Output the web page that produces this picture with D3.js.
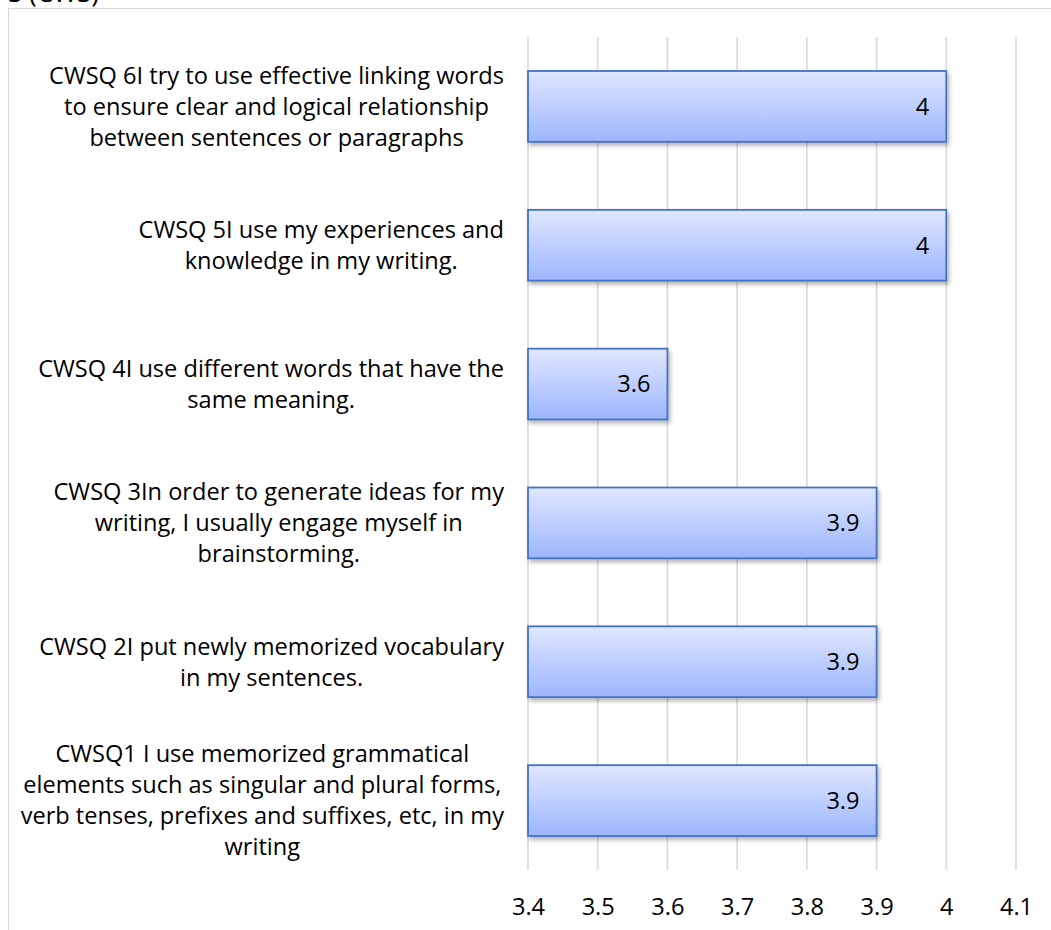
<!DOCTYPE html>
<html><head><meta charset="utf-8">
<script src="https://cdn.jsdelivr.net/npm/d3@7"></script>
<style>body{margin:0;background:#fff}svg{display:block}</style>
</head><body>
<svg id="c" width="1051" height="930"></svg>
<script>
const categories = ["CWSQ1","CWSQ 2","CWSQ 3","CWSQ 4","CWSQ 5","CWSQ 6"];
const labelLines = [
  ["CWSQ1 I use memorized grammatical","elements such as singular and plural forms,","verb tenses, prefixes and suffixes, etc, in my","writing"],
  ["CWSQ 2I put newly memorized vocabulary","in my sentences."],
  ["CWSQ 3In order to generate ideas for my","writing, I usually engage myself in","brainstorming."],
  ["CWSQ 4I use different words that have the","same meaning."],
  ["CWSQ 5I use my experiences and","knowledge in my writing."],
  ["CWSQ 6I try to use effective linking words","to ensure clear and logical relationship","between sentences or paragraphs"]
];
const values = [3.9, 3.9, 3.9, 3.6, 4, 4];
const xDomain = [3.4, 4.1];
const tickValues = [3.4,3.5,3.6,3.7,3.8,3.9,4,4.1];
const titleFragment = "S (CWS)";

const FONT = "'Open Sans', Lato, sans-serif";
const svg = d3.select("#c");

// fit font size so that reference line width matches (455px)
const probe = svg.append("text").attr("font-family",FONT).attr("font-size",20).text(labelLines[5][0]);
const FS = 20 * 455 / probe.node().getComputedTextLength();
probe.remove();

const defs = svg.append("defs");
const g = defs.append("linearGradient").attr("id","bg").attr("x1",0).attr("y1",0).attr("x2",0).attr("y2",1);
g.append("stop").attr("offset","0%").attr("stop-color","#e0e7ff");
g.append("stop").attr("offset","100%").attr("stop-color","#9cb6fd");
const f = defs.append("filter").attr("id","sh").attr("x","-10%").attr("y","-10%").attr("width","130%").attr("height","150%");
f.append("feDropShadow").attr("dx",2).attr("dy",3).attr("stdDeviation",2).attr("flood-color","#000").attr("flood-opacity",0.3);

// chart border
svg.append("rect").attr("x",8.5).attr("y",8.5).attr("width",1100).attr("height",1000)
  .attr("fill","none").attr("stroke","#d9d9d9").attr("stroke-width",1.2);

// partially visible title (cut by the top edge, as in the reference)
svg.append("text").attr("x",8).attr("y",2).attr("font-family",FONT).attr("font-size",26)
  .attr("fill","#000").text(titleFragment);

const x = d3.scaleLinear().domain(xDomain).range([528,1016]);
const order = categories.map((c,i)=>i).reverse();
const y = d3.scaleBand().domain(order).range([37,870]).paddingInner(0.49).paddingOuter(0.245);

// gridlines
svg.append("g").selectAll("line").data(tickValues).join("line")
  .attr("x1",d=>x(d)).attr("x2",d=>x(d)).attr("y1",37).attr("y2",870)
  .attr("stroke","#d9d9d9").attr("stroke-width",1.6);

// axis labels
const axis = d3.axisBottom(x).tickValues(tickValues).tickFormat(d=>String(+d.toFixed(1))).tickSize(0).tickPadding(0);
const ax = svg.append("g").attr("transform","translate(0,907)").call(axis);
ax.select(".domain").remove();
ax.selectAll("text").attr("font-family",FONT).attr("font-size",FS).attr("fill","#000").attr("dy","0.35em");

// bars
svg.append("g").selectAll("rect").data(order).join("rect")
  .attr("x",x(xDomain[0])).attr("y",i=>y(i))
  .attr("width",i=>x(values[i])-x(xDomain[0])).attr("height",y.bandwidth())
  .attr("fill","url(#bg)").attr("stroke","#4472c4").attr("stroke-width",1.8)
  .attr("filter","url(#sh)");

// value labels
svg.append("g").selectAll("text").data(order).join("text")
  .attr("x",i=>x(values[i])-17).attr("y",i=>y(i)+y.bandwidth()/2)
  .attr("dy","0.35em").attr("text-anchor","end")
  .attr("font-family",FONT).attr("font-size",FS).attr("fill","#000")
  .text(i=>String(values[i]));

// category labels
const lh = 31;
const labG = svg.append("g");
order.forEach(i=>{
  const lines = labelLines[i];
  const t = labG.append("text").attr("font-family",FONT).attr("font-size",FS).attr("fill","#000").attr("text-anchor","middle");
  const cy = y(i)+y.bandwidth()/2;
  const y0 = cy - (lines.length-1)*lh/2;
  const ts = lines.map((l,k)=>t.append("tspan").attr("y",y0+k*lh).attr("dy","0.35em").text(l));
  const maxW = d3.max(ts, s=>s.node().getComputedTextLength());
  const cx = 504 - maxW/2;
  ts.forEach(s=>s.attr("x",cx));
});
</script>
</body></html>
